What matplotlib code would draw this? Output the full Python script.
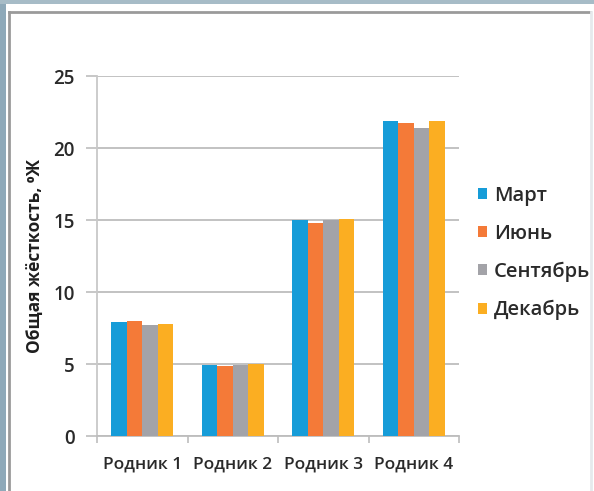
import matplotlib
matplotlib.use("Agg")
import matplotlib.pyplot as plt
import numpy as np
from matplotlib.patches import Rectangle, Patch
from matplotlib.lines import Line2D

categories = ["Родник 1", "Родник 2", "Родник 3", "Родник 4"]
series_names = ["Март", "Июнь", "Сентябрь", "Декабрь"]
mart = [7.9, 4.9, 15.0, 21.9]
iyun = [8.0, 4.85, 14.8, 21.75]
sentyabr = [7.7, 4.9, 15.0, 21.4]
dekabr = [7.8, 5.0, 15.1, 21.9]
series_values = [mart, iyun, sentyabr, dekabr]
colors = ["#169CD8", "#F47A38", "#A3A3A8", "#FBAE22"]
yticks = [0, 5, 10, 15, 20, 25]

plt.rcParams['font.family'] = ['Open Sans', 'DejaVu Sans']

fig = plt.figure(figsize=(5.94, 4.91), dpi=100)
W, H = 594, 491

# frame decorations
fig.patches.append(Rectangle((0, 0), 6 / W, 1, transform=fig.transFigure,
                             facecolor="#8EA9B9", edgecolor="none", zorder=0))
fig.patches.append(Rectangle((0, 1 - 4 / H), 1, 4 / H, transform=fig.transFigure,
                             facecolor="#A7BCC7", edgecolor="none", zorder=0))
fig.lines.append(Line2D([9 / W, 9 / W], [0, 1 - 12 / H], transform=fig.transFigure,
                        color="#9A9A9A", lw=2))
fig.lines.append(Line2D([9 / W, 590 / W], [1 - 12 / H, 1 - 12 / H], transform=fig.transFigure,
                        color="#9A9A9A", lw=2))
fig.lines.append(Line2D([591 / W, 591 / W], [0, 1 - 12 / H], transform=fig.transFigure,
                        color="#E6E9EC", lw=2))

ax = fig.add_axes([97 / W, 1 - 436 / H, (459 - 97) / W, (436 - 76) / H])

n = len(series_values)
bw = 0.172
x = np.arange(len(categories))
for i, (vals, c, name) in enumerate(zip(series_values, colors, series_names)):
    offs = (i - (n - 1) / 2) * bw
    ax.bar(x + offs, vals, width=bw, color=c, label=name, zorder=3)

ax.set_xlim(-0.5, len(categories) - 0.5)
ax.set_ylim(0, 25)
ax.set_yticks(yticks)
ax.set_yticklabels([str(t) for t in yticks])
ax.yaxis.grid(True, color="#BDBDBD", lw=1.3, zorder=0)
ax.set_axisbelow(True)

for s in ["top", "right"]:
    ax.spines[s].set_visible(False)
ax.spines["left"].set_color("#C8C8C8")
ax.spines["left"].set_linewidth(1.3)
ax.spines["bottom"].set_color("#BDBDBD")
ax.spines["bottom"].set_linewidth(1.3)

ax.set_xticks(np.arange(-0.5, len(categories), 1.0))
ax.set_xticklabels([])
ax.set_xticks(x, minor=True)
ax.set_xticklabels(categories, minor=True, fontsize=12.5, color="#2A2A2A",
                   fontweight="semibold")
ax.tick_params(axis="x", which="major", length=5, color="#BDBDBD", width=1.2)
ax.tick_params(axis="x", which="minor", length=0, pad=15)
ax.tick_params(axis="y", length=8, color="#BDBDBD", width=1.2, labelsize=13.5,
               labelcolor="#2A2A2A", pad=8)
for lbl in ax.get_yticklabels():
    lbl.set_fontweight("semibold")

fig.text(35 / W, 1 - 256 / H, "Общая жёсткость, ⁰Ж", rotation=90, ha="center",
         va="center", fontsize=12.5, fontweight="bold", color="#1E1E1E")

handles = [Patch(facecolor=c, edgecolor="none") for c in colors]
leg = fig.legend(handles, series_names, loc="center left",
                 bbox_to_anchor=(470 / W, 1 - 253 / H), frameon=False,
                 fontsize=14.5, labelspacing=0.9, handlelength=0.45, handleheight=0.45,
                 handletextpad=0.35, labelcolor="#2A2A2A", borderaxespad=0)
for t in leg.get_texts():
    t.set_fontweight("semibold")

fig.savefig("out.png", dpi=100, facecolor="white")
